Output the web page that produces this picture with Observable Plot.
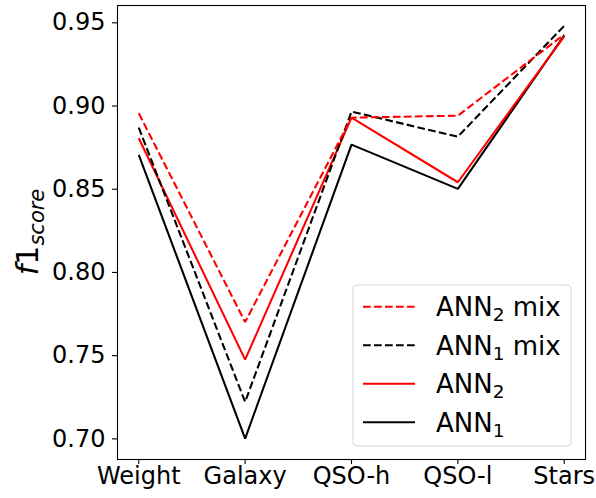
<!DOCTYPE html>
<html>
<head>
<meta charset="utf-8">
<script src="https://cdn.jsdelivr.net/npm/d3@7"></script>
<script src="https://cdn.jsdelivr.net/npm/@observablehq/plot@0.6"></script>
<style>
  html, body { margin: 0; padding: 0; background: white; }
  #chart { width: 596px; height: 498px; }
</style>
</head>
<body>
<div id="chart"></div>
<script>
const categories = ["Weight", "Galaxy", "QSO-h", "QSO-l", "Stars"];
const ann2mix = [0.8956, 0.7702, 0.8930, 0.8942, 0.9430];
const ann1mix = [0.8870, 0.7222, 0.8966, 0.8816, 0.9482];
const ann2    = [0.8806, 0.7476, 0.8930, 0.8542, 0.9418];
const ann1    = [0.8706, 0.7002, 0.8768, 0.8502, 0.9425];
const yTicks  = [0.70, 0.75, 0.80, 0.85, 0.90, 0.95];

const series = [
  {name: "ANN2 mix", base: "ANN", sub: "2", extra: " mix", values: ann2mix, color: "#ff0000", dash: "7.7,3.3"},
  {name: "ANN1 mix", base: "ANN", sub: "1", extra: " mix", values: ann1mix, color: "#000000", dash: "7.7,3.3"},
  {name: "ANN2",     base: "ANN", sub: "2", extra: "",     values: ann2,    color: "#ff0000", dash: null},
  {name: "ANN1",     base: "ANN", sub: "1", extra: "",     values: ann1,    color: "#000000", dash: null}
];

const lineMarks = series.slice().reverse().map(s => {
  const data = s.values.map((v, i) => ({i, v}));
  return Plot.line(data, {x: "i", y: "v", stroke: s.color, strokeWidth: 2.08,
    strokeDasharray: s.dash || undefined, strokeLinejoin: "miter", strokeLinecap: "butt"});
});

const chart = Plot.plot({
  width: 596,
  height: 498,
  marginLeft: 117,
  marginRight: 11,
  marginTop: 5,
  marginBottom: 39,
  style: {fontFamily: "DejaVu Sans", fontSize: "24px", color: "black", background: "white"},
  x: {type: "linear", domain: [-0.2, 4.2]},
  y: {domain: [0.6876, 0.9604]},
  marks: [
    ...lineMarks,
    Plot.frame({stroke: "black", strokeWidth: 1.1}),
    Plot.axisX({ticks: [0, 1, 2, 3, 4], tickFormat: i => categories[i], tickSize: 5, tickPadding: 2,
      label: null, fontSize: 24, stroke: "black", strokeWidth: 1.1, color: "black"}),
    Plot.axisY({ticks: yTicks, tickFormat: d3.format(".2f"), tickSize: 5, tickPadding: 7,
      label: null, fontSize: 24, stroke: "black", strokeWidth: 1.1, color: "black"})
  ]
});
document.getElementById("chart").appendChild(chart);

const svg = d3.select(chart);

// y-axis label: f1_score
const ylab = svg.append("text")
  .attr("transform", "translate(37.5,232) rotate(-90)")
  .attr("text-anchor", "middle")
  .attr("font-family", "DejaVu Sans")
  .attr("font-size", 30)
  .attr("fill", "black");
ylab.append("tspan").attr("font-style", "italic").text("f");
ylab.append("tspan").text("1");
ylab.append("tspan").attr("font-style", "italic").attr("font-size", 21).attr("dy", 6).text("score");

// legend
const lg = svg.append("g");
lg.append("rect")
  .attr("x", 353).attr("y", 285).attr("width", 218).attr("height", 161)
  .attr("rx", 4).attr("ry", 4)
  .attr("fill", "white").attr("fill-opacity", 0.8)
  .attr("stroke", "#d6d6d6").attr("stroke-width", 1);
const rowY = [306.7, 345.2, 383.7, 422.2];
series.forEach((s, k) => {
  const y = rowY[k];
  lg.append("line")
    .attr("x1", 363).attr("x2", 415).attr("y1", y).attr("y2", y)
    .attr("stroke", s.color).attr("stroke-width", 2.08)
    .attr("stroke-dasharray", s.dash);
  const t = lg.append("text")
    .attr("x", 436).attr("y", y + 9.5)
    .attr("text-anchor", "start")
    .attr("font-family", "DejaVu Sans").attr("font-size", 26).attr("fill", "black");
  t.append("tspan").text(s.base);
  t.append("tspan").attr("font-size", 18.5).attr("dy", 5).text(s.sub);
  if (s.extra) t.append("tspan").attr("dy", -5).text(s.extra);
});
</script>
</body>
</html>
